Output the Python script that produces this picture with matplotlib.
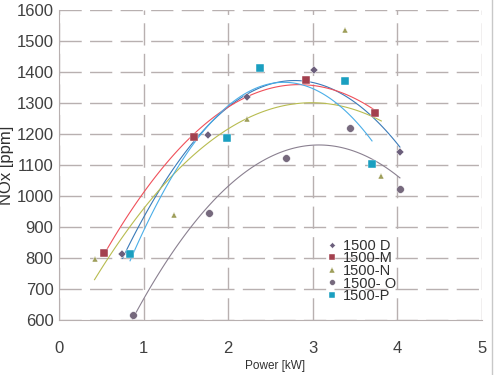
import matplotlib.pyplot as plt
from matplotlib.lines import Line2D
import numpy as np

# Data
d_x = [0.75, 1.76, 2.22, 3.01, 4.03]
d_y = [812, 1197, 1318, 1407, 1143]
m_x = [0.53, 1.60, 2.92, 3.74]
m_y = [815, 1189, 1373, 1269]
n_x = [0.42, 1.36, 2.22, 3.38, 3.81]
n_y = [796, 939, 1247, 1534, 1065]
o_x = [0.87, 1.77, 2.68, 3.44, 4.03]
o_y = [617, 946, 1122, 1219, 1022]
p_x = [0.84, 1.99, 2.37, 3.38, 3.70]
p_y = [813, 1188, 1412, 1371, 1102]

labels = ["1500 D", "1500-M", "1500-N", "1500- O", "1500-P"]
markers = ["D", "s", "^", "o", "s"]
msizes = [4, 5.5, 5, 5.5, 5.5]
mcolors = ["#6b5e7b", "#a3404e", "#9e9e5a", "#76697d", "#1a9fc0"]
lcolors = ["#3a7ab8", "#f0505a", "#b8bc50", "#8a8090", "#4aaee8"]

plt.rcParams['font.family'] = ['Liberation Sans Narrow', 'Liberation Sans', 'DejaVu Sans']

fig = plt.figure(figsize=(5, 3.75), dpi=100)
ax = fig.add_axes([0.118, 0.1467, 0.846, 0.8266])

series = [(d_x, d_y), (m_x, m_y), (n_x, n_y), (o_x, o_y), (p_x, p_y)]
for (xs, ys), lab, mk, ms, mc, lc in zip(series, labels, markers, msizes, mcolors, lcolors):
    # quadratic trend line like the spreadsheet
    coef = np.polyfit(xs, ys, 2)
    xx = np.linspace(min(xs), max(xs), 100)
    ax.plot(xx, np.polyval(coef, xx), color=lc, lw=0.8, zorder=2)
    ax.plot(xs, ys, linestyle="none", marker=mk, ms=ms, color=mc, mec="white", mew=0.3, label=lab, zorder=3)

ax.set_xlim(0, 5)
ax.set_ylim(600, 1600)
ax.set_xticks(range(0, 6))
ax.set_yticks(range(600, 1601, 100))

ax.grid(True, color="#b8b0b0", lw=1, linestyle=(0, (16, 6)))
ax.set_axisbelow(True)
for s in ["top", "right"]:
    ax.spines[s].set_visible(False)
for s in ["left", "bottom"]:
    ax.spines[s].set_color("#b8b0b0")
ax.tick_params(length=0, labelsize=12, labelcolor="#404040")
ax.tick_params(axis="x", pad=15)
ax.tick_params(axis="y", pad=4)

ax.set_xlabel("Power [kW]", fontsize=8.5, color="#303030")
ax.xaxis.set_label_coords(0.51, -0.13)
ax.set_ylabel("NOx [ppm]", fontsize=12, color="#303030", labelpad=2)

leg = ax.legend(loc="upper left", bbox_to_anchor=(0.617, 0.285), frameon=False,
                fontsize=10.5, labelspacing=-0.1, handlelength=0.6, handletextpad=0.45,
                borderpad=0, markerscale=0.75, labelcolor="#303030")

fig.add_artist(Line2D([0.984, 0.984], [0, 1], color="#c8c8c8", lw=1))

fig.savefig("out.png", dpi=100)
